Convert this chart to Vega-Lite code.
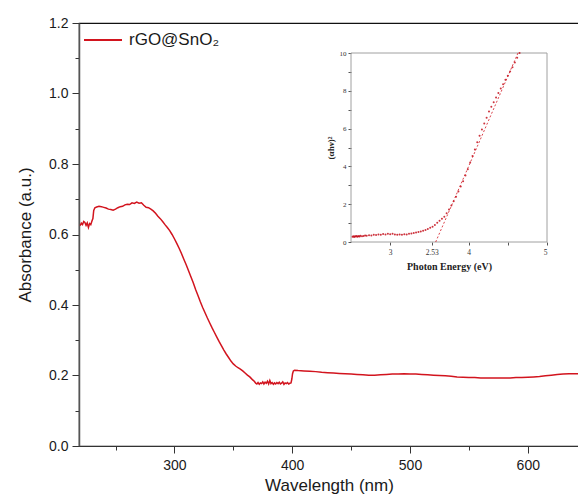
{
  "$schema": "https://vega.github.io/schema/vega-lite/v6.json",
  "width": 500,
  "height": 423,
  "autosize": {"type": "none"},
  "padding": {"left": 79, "top": 23, "right": 0, "bottom": 53},
  "background": "white",
  "config": {
    "view": {"stroke": "#111", "strokeWidth": 1.2},
    "font": "Liberation Sans"
  },
  "datasets": {
    "main": [
      {"wavelength": 220, "absorbance": 0.625}, {"wavelength": 221, "absorbance": 0.632}, {"wavelength": 222, "absorbance": 0.628},
      {"wavelength": 223, "absorbance": 0.637}, {"wavelength": 224, "absorbance": 0.634}, {"wavelength": 225, "absorbance": 0.626},
      {"wavelength": 226, "absorbance": 0.633}, {"wavelength": 227, "absorbance": 0.620}, {"wavelength": 228, "absorbance": 0.631},
      {"wavelength": 229, "absorbance": 0.628}, {"wavelength": 230, "absorbance": 0.638}, {"wavelength": 230.8, "absorbance": 0.645},
      {"wavelength": 231.5, "absorbance": 0.668}, {"wavelength": 232.5, "absorbance": 0.676}, {"wavelength": 234, "absorbance": 0.678},
      {"wavelength": 236, "absorbance": 0.680}, {"wavelength": 238, "absorbance": 0.679}, {"wavelength": 240, "absorbance": 0.677},
      {"wavelength": 242, "absorbance": 0.675}, {"wavelength": 244, "absorbance": 0.672}, {"wavelength": 246, "absorbance": 0.671},
      {"wavelength": 248, "absorbance": 0.669}, {"wavelength": 250, "absorbance": 0.672}, {"wavelength": 252, "absorbance": 0.676},
      {"wavelength": 254, "absorbance": 0.679}, {"wavelength": 256, "absorbance": 0.680}, {"wavelength": 258, "absorbance": 0.684},
      {"wavelength": 260, "absorbance": 0.686}, {"wavelength": 262, "absorbance": 0.685}, {"wavelength": 264, "absorbance": 0.690},
      {"wavelength": 266, "absorbance": 0.688}, {"wavelength": 268, "absorbance": 0.692}, {"wavelength": 270, "absorbance": 0.689},
      {"wavelength": 272, "absorbance": 0.690}, {"wavelength": 274, "absorbance": 0.683}, {"wavelength": 276, "absorbance": 0.677},
      {"wavelength": 278, "absorbance": 0.676}, {"wavelength": 280, "absorbance": 0.672}, {"wavelength": 282, "absorbance": 0.667},
      {"wavelength": 284, "absorbance": 0.660}, {"wavelength": 286, "absorbance": 0.652}, {"wavelength": 288, "absorbance": 0.645},
      {"wavelength": 290, "absorbance": 0.637}, {"wavelength": 292, "absorbance": 0.628}, {"wavelength": 294, "absorbance": 0.620},
      {"wavelength": 296, "absorbance": 0.611}, {"wavelength": 298, "absorbance": 0.600}, {"wavelength": 300, "absorbance": 0.588},
      {"wavelength": 302, "absorbance": 0.575}, {"wavelength": 304, "absorbance": 0.561}, {"wavelength": 306, "absorbance": 0.546},
      {"wavelength": 308, "absorbance": 0.530}, {"wavelength": 310, "absorbance": 0.514}, {"wavelength": 312, "absorbance": 0.497},
      {"wavelength": 314, "absorbance": 0.480}, {"wavelength": 316, "absorbance": 0.463}, {"wavelength": 318, "absorbance": 0.444},
      {"wavelength": 320, "absorbance": 0.427}, {"wavelength": 322, "absorbance": 0.409}, {"wavelength": 324, "absorbance": 0.393},
      {"wavelength": 326, "absorbance": 0.378}, {"wavelength": 328, "absorbance": 0.363}, {"wavelength": 330, "absorbance": 0.349},
      {"wavelength": 332, "absorbance": 0.335}, {"wavelength": 334, "absorbance": 0.322}, {"wavelength": 336, "absorbance": 0.309},
      {"wavelength": 338, "absorbance": 0.296}, {"wavelength": 340, "absorbance": 0.284}, {"wavelength": 342, "absorbance": 0.272},
      {"wavelength": 344, "absorbance": 0.261}, {"wavelength": 346, "absorbance": 0.251}, {"wavelength": 348, "absorbance": 0.241},
      {"wavelength": 350, "absorbance": 0.233}, {"wavelength": 352, "absorbance": 0.227}, {"wavelength": 354, "absorbance": 0.222},
      {"wavelength": 356, "absorbance": 0.218}, {"wavelength": 358, "absorbance": 0.213}, {"wavelength": 360, "absorbance": 0.207},
      {"wavelength": 362, "absorbance": 0.201}, {"wavelength": 364, "absorbance": 0.196}, {"wavelength": 366, "absorbance": 0.189},
      {"wavelength": 368, "absorbance": 0.183}, {"wavelength": 369, "absorbance": 0.178}, {"wavelength": 370, "absorbance": 0.176},
      {"wavelength": 371, "absorbance": 0.180}, {"wavelength": 372, "absorbance": 0.175}, {"wavelength": 373, "absorbance": 0.179},
      {"wavelength": 374, "absorbance": 0.177}, {"wavelength": 375, "absorbance": 0.182}, {"wavelength": 376, "absorbance": 0.176},
      {"wavelength": 377, "absorbance": 0.181}, {"wavelength": 378, "absorbance": 0.178}, {"wavelength": 379, "absorbance": 0.184},
      {"wavelength": 380, "absorbance": 0.176}, {"wavelength": 381, "absorbance": 0.186}, {"wavelength": 382, "absorbance": 0.177},
      {"wavelength": 383, "absorbance": 0.180}, {"wavelength": 384, "absorbance": 0.175}, {"wavelength": 385, "absorbance": 0.179},
      {"wavelength": 386, "absorbance": 0.176}, {"wavelength": 387, "absorbance": 0.180}, {"wavelength": 388, "absorbance": 0.177},
      {"wavelength": 389, "absorbance": 0.181}, {"wavelength": 390, "absorbance": 0.176}, {"wavelength": 391, "absorbance": 0.178},
      {"wavelength": 392, "absorbance": 0.182}, {"wavelength": 393, "absorbance": 0.175}, {"wavelength": 394, "absorbance": 0.179},
      {"wavelength": 395, "absorbance": 0.177}, {"wavelength": 396, "absorbance": 0.180}, {"wavelength": 397, "absorbance": 0.176},
      {"wavelength": 398, "absorbance": 0.178}, {"wavelength": 399, "absorbance": 0.179}, {"wavelength": 399.7, "absorbance": 0.190},
      {"wavelength": 400.3, "absorbance": 0.205}, {"wavelength": 401, "absorbance": 0.213}, {"wavelength": 402, "absorbance": 0.215},
      {"wavelength": 405, "absorbance": 0.214}, {"wavelength": 410, "absorbance": 0.213}, {"wavelength": 415, "absorbance": 0.212},
      {"wavelength": 420, "absorbance": 0.211}, {"wavelength": 425, "absorbance": 0.209}, {"wavelength": 430, "absorbance": 0.208},
      {"wavelength": 435, "absorbance": 0.207}, {"wavelength": 440, "absorbance": 0.206}, {"wavelength": 445, "absorbance": 0.205},
      {"wavelength": 450, "absorbance": 0.204}, {"wavelength": 455, "absorbance": 0.203}, {"wavelength": 460, "absorbance": 0.202},
      {"wavelength": 465, "absorbance": 0.201}, {"wavelength": 470, "absorbance": 0.201}, {"wavelength": 475, "absorbance": 0.202},
      {"wavelength": 480, "absorbance": 0.203}, {"wavelength": 485, "absorbance": 0.204}, {"wavelength": 490, "absorbance": 0.204},
      {"wavelength": 495, "absorbance": 0.205}, {"wavelength": 500, "absorbance": 0.204}, {"wavelength": 505, "absorbance": 0.204},
      {"wavelength": 510, "absorbance": 0.203}, {"wavelength": 515, "absorbance": 0.202}, {"wavelength": 520, "absorbance": 0.201},
      {"wavelength": 525, "absorbance": 0.200}, {"wavelength": 530, "absorbance": 0.199}, {"wavelength": 535, "absorbance": 0.198},
      {"wavelength": 540, "absorbance": 0.196}, {"wavelength": 545, "absorbance": 0.195}, {"wavelength": 550, "absorbance": 0.194},
      {"wavelength": 555, "absorbance": 0.194}, {"wavelength": 560, "absorbance": 0.193}, {"wavelength": 565, "absorbance": 0.193},
      {"wavelength": 570, "absorbance": 0.193}, {"wavelength": 575, "absorbance": 0.193}, {"wavelength": 580, "absorbance": 0.193},
      {"wavelength": 585, "absorbance": 0.193}, {"wavelength": 590, "absorbance": 0.194}, {"wavelength": 595, "absorbance": 0.194},
      {"wavelength": 600, "absorbance": 0.195}, {"wavelength": 605, "absorbance": 0.196}, {"wavelength": 610, "absorbance": 0.197},
      {"wavelength": 615, "absorbance": 0.199}, {"wavelength": 620, "absorbance": 0.201}, {"wavelength": 625, "absorbance": 0.203},
      {"wavelength": 630, "absorbance": 0.204}, {"wavelength": 635, "absorbance": 0.205}, {"wavelength": 640, "absorbance": 0.205},
      {"wavelength": 643.5, "absorbance": 0.205}
    ],
    "inset": [
      {"energy": 2.52, "ahv2": 0.28}, {"energy": 2.53, "ahv2": 0.30}, {"energy": 2.54, "ahv2": 0.27}, {"energy": 2.55, "ahv2": 0.31},
      {"energy": 2.56, "ahv2": 0.29}, {"energy": 2.57, "ahv2": 0.32}, {"energy": 2.58, "ahv2": 0.28}, {"energy": 2.59, "ahv2": 0.30},
      {"energy": 2.60, "ahv2": 0.31}, {"energy": 2.61, "ahv2": 0.29}, {"energy": 2.62, "ahv2": 0.33}, {"energy": 2.64, "ahv2": 0.30},
      {"energy": 2.66, "ahv2": 0.32}, {"energy": 2.68, "ahv2": 0.34}, {"energy": 2.70, "ahv2": 0.33}, {"energy": 2.73, "ahv2": 0.36},
      {"energy": 2.76, "ahv2": 0.35}, {"energy": 2.79, "ahv2": 0.38}, {"energy": 2.82, "ahv2": 0.37}, {"energy": 2.85, "ahv2": 0.40},
      {"energy": 2.88, "ahv2": 0.39}, {"energy": 2.91, "ahv2": 0.42}, {"energy": 2.94, "ahv2": 0.40}, {"energy": 2.97, "ahv2": 0.43},
      {"energy": 3.00, "ahv2": 0.41}, {"energy": 3.03, "ahv2": 0.44}, {"energy": 3.06, "ahv2": 0.40}, {"energy": 3.09, "ahv2": 0.38},
      {"energy": 3.12, "ahv2": 0.40}, {"energy": 3.15, "ahv2": 0.39}, {"energy": 3.18, "ahv2": 0.41}, {"energy": 3.21, "ahv2": 0.40},
      {"energy": 3.24, "ahv2": 0.43}, {"energy": 3.27, "ahv2": 0.45}, {"energy": 3.30, "ahv2": 0.47}, {"energy": 3.33, "ahv2": 0.50},
      {"energy": 3.36, "ahv2": 0.53}, {"energy": 3.39, "ahv2": 0.56}, {"energy": 3.42, "ahv2": 0.60}, {"energy": 3.45, "ahv2": 0.64},
      {"energy": 3.48, "ahv2": 0.69}, {"energy": 3.51, "ahv2": 0.75}, {"energy": 3.54, "ahv2": 0.81}, {"energy": 3.57, "ahv2": 0.90},
      {"energy": 3.60, "ahv2": 1.02}, {"energy": 3.63, "ahv2": 1.13}, {"energy": 3.66, "ahv2": 1.23}, {"energy": 3.69, "ahv2": 1.34},
      {"energy": 3.72, "ahv2": 1.52}, {"energy": 3.75, "ahv2": 1.72}, {"energy": 3.78, "ahv2": 1.93}, {"energy": 3.81, "ahv2": 2.15},
      {"energy": 3.84, "ahv2": 2.40}, {"energy": 3.87, "ahv2": 2.67}, {"energy": 3.90, "ahv2": 2.94}, {"energy": 3.93, "ahv2": 3.22},
      {"energy": 3.96, "ahv2": 3.52}, {"energy": 3.99, "ahv2": 3.85}, {"energy": 4.02, "ahv2": 4.20}, {"energy": 4.05, "ahv2": 4.55},
      {"energy": 4.08, "ahv2": 4.90}, {"energy": 4.11, "ahv2": 5.28}, {"energy": 4.14, "ahv2": 5.62}, {"energy": 4.17, "ahv2": 5.95},
      {"energy": 4.20, "ahv2": 6.27}, {"energy": 4.23, "ahv2": 6.58}, {"energy": 4.26, "ahv2": 6.90}, {"energy": 4.29, "ahv2": 7.15},
      {"energy": 4.32, "ahv2": 7.40}, {"energy": 4.35, "ahv2": 7.64}, {"energy": 4.38, "ahv2": 7.88}, {"energy": 4.41, "ahv2": 8.12},
      {"energy": 4.44, "ahv2": 8.35}, {"energy": 4.47, "ahv2": 8.58}, {"energy": 4.50, "ahv2": 8.80}, {"energy": 4.53, "ahv2": 9.02},
      {"energy": 4.56, "ahv2": 9.25}, {"energy": 4.59, "ahv2": 9.50}, {"energy": 4.62, "ahv2": 9.75}, {"energy": 4.65, "ahv2": 10.0}
    ],
    "tangent": [
      {"energy": 3.58, "ahv2": 0.0},
      {"energy": 4.63, "ahv2": 10.0}
    ]
  },
  "layer": [
    {
      "layer": [
        {
          "data": {"name": "main"},
          "mark": {"type": "line", "strokeWidth": 1.5, "clip": true},
          "encoding": {
            "x": {
              "field": "wavelength", "type": "quantitative",
              "scale": {"domain": [219, 643.5], "nice": false, "zero": false},
              "axis": {
                "orient": "bottom",
                "title": "Wavelength (nm)",
                "values": [250, 300, 350, 400, 450, 500, 550, 600],
                "labelExpr": "datum.value % 100 == 0 ? datum.label : ''",
                "tickSize": {"condition": {"test": "datum.value % 100 == 0", "value": 7}, "value": 4},
                "grid": false,
                "domainColor": "#333", "tickColor": "#333",
                "labelFontSize": 14, "labelColor": "#1a1a1a", "labelPadding": 5,
                "titleFontSize": 17, "titleFontWeight": "normal", "titleColor": "#1a1a1a", "titlePadding": 5
              }
            },
            "y": {
              "field": "absorbance", "type": "quantitative",
              "scale": {"domain": [0, 1.2], "nice": false},
              "axis": {
                "orient": "left",
                "title": "Absorbance (a.u.)",
                "values": [0, 0.1, 0.2, 0.3, 0.4, 0.5, 0.6, 0.7, 0.8, 0.9, 1.0, 1.1, 1.2],
                "labelExpr": "round(datum.value * 10) % 2 == 0 ? format(datum.value, '.1f') : ''",
                "tickSize": {"condition": {"test": "round(datum.value * 10) % 2 == 0", "value": 7}, "value": 4},
                "grid": false,
                "domainColor": "#555", "domainWidth": 1.5, "tickColor": "#333",
                "labelFontSize": 14, "labelColor": "#1a1a1a", "labelPadding": 4,
                "titleFontSize": 17, "titleFontWeight": "normal", "titleColor": "#1a1a1a", "titlePadding": 14
              }
            },
            "color": {
              "datum": "rGO@SnO₂",
              "scale": {"range": ["#d2141e"]},
              "legend": {
                "title": null, "orient": "none", "legendX": 4, "legendY": -3,
                "symbolType": "stroke", "symbolSize": 1444, "symbolStrokeWidth": 2,
                "labelFontSize": 17, "labelColor": "#1a1a1a", "labelOffset": 6, "padding": 0
              }
            }
          }
        }
      ]
    },
    {
      "layer": [
        {
          "data": {"values": [{}]},
          "mark": {"type": "rect", "fill": null, "stroke": "#a0a0a0", "strokeWidth": 1},
          "encoding": {
            "x": {"datum": 2.5, "type": "quantitative"},
            "x2": {"datum": 5},
            "y": {"datum": 0, "type": "quantitative"},
            "y2": {"datum": 10}
          }
        },
        {
          "data": {"name": "tangent"},
          "mark": {"type": "line", "color": "#d2141e", "strokeWidth": 0.8, "strokeDash": [2, 2]},
          "encoding": {
            "x": {"field": "energy", "type": "quantitative"},
            "y": {"field": "ahv2", "type": "quantitative"}
          }
        },
        {
          "data": {"name": "inset"},
          "mark": {"type": "circle", "size": 4, "color": "#c4101c", "opacity": 0.85},
          "encoding": {
            "x": {
              "field": "energy", "type": "quantitative",
              "scale": {"domain": [2.5, 5], "range": [272, 468], "nice": false, "zero": false},
              "axis": {
                "orient": "bottom", "offset": -204,
                "title": "Photon Energy (eV)",
                "values": [3, 3.53, 4, 4.5, 5],
                "labelExpr": "datum.value == 4.5 ? '' : (datum.value == 3.53 ? '2.53' : format(datum.value, 'd'))",
                "grid": false, "domain": false,
                "tickSize": 3, "tickColor": "#555", "tickWidth": 1,
                "labelFont": "Liberation Serif", "labelFontSize": 7.5, "labelColor": "#333", "labelPadding": 3,
                "titleFont": "Liberation Serif", "titleFontSize": 10, "titleFontWeight": "bold", "titleColor": "#222", "titlePadding": 6
              }
            },
            "y": {
              "field": "ahv2", "type": "quantitative",
              "scale": {"domain": [0, 10], "range": [219, 30], "nice": false, "zero": false},
              "axis": {
                "orient": "left", "offset": -272,
                "title": "(αhν)²",
                "values": [0, 1, 2, 3, 4, 5, 6, 7, 8, 9, 10],
                "labelExpr": "datum.value % 2 == 0 ? datum.label : ''",
                "grid": false, "domain": false,
                "tickSize": 3, "tickColor": "#555", "tickWidth": 1,
                "labelFont": "Liberation Serif", "labelFontSize": 7, "labelColor": "#333", "labelPadding": 2,
                "titleFont": "Liberation Serif", "titleFontSize": 9, "titleFontWeight": "bold", "titleColor": "#222", "titlePadding": 4
              }
            }
          }
        }
      ]
    }
  ],
  "resolve": {
    "scale": {"x": "independent", "y": "independent", "color": "independent"},
    "axis": {"x": "independent", "y": "independent"}
  }
}
